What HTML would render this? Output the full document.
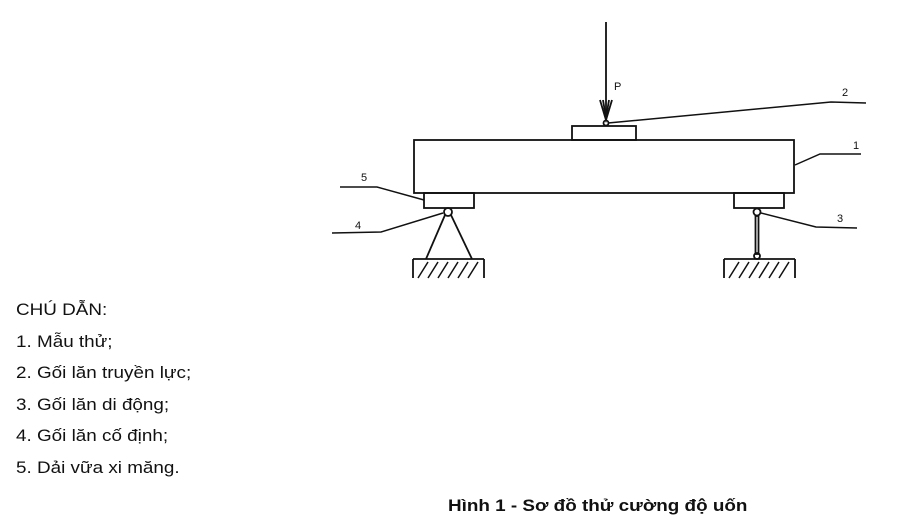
<!DOCTYPE html>
<html><head><meta charset="utf-8"><style>
body{margin:0;width:900px;height:523px;background:#fff;overflow:hidden;position:relative;font-family:"Liberation Sans",Arial,sans-serif;}
.leg{position:absolute;left:16px;font-size:17px;color:#111;line-height:20px;transform:scaleX(1.11);transform-origin:0 0;white-space:nowrap;}
.cap{position:absolute;left:448px;top:496px;font-size:17px;font-weight:bold;color:#111;transform:scaleX(1.11);transform-origin:0 0;white-space:nowrap;}
svg{position:absolute;left:0;top:0}
</style></head><body>
<svg width="900" height="523" viewBox="0 0 900 523" stroke="#111" fill="none" stroke-width="1.8">
<line x1="606" y1="22" x2="606" y2="120"/>
<path d="M600 100 L606 120 L612 100" />
<line x1="603" y1="100" x2="606" y2="118"/>
<line x1="609" y1="100" x2="606" y2="118"/>
<circle cx="606" cy="123" r="2.5"/>
<text x="614" y="90" font-size="11" font-family="Liberation Sans, sans-serif" fill="#111" stroke="none">P</text>
<rect x="572" y="126" width="64" height="14"/>
<rect x="414" y="140" width="380" height="53"/>
<rect x="424" y="193" width="50" height="15"/>
<rect x="734" y="193" width="50" height="15"/>
<circle cx="448" cy="212" r="4"/>
<line x1="445" y1="215" x2="426" y2="259"/>
<line x1="451" y1="215" x2="472" y2="259"/>
<line x1="413" y1="259" x2="484" y2="259"/>
<line x1="413" y1="259" x2="413" y2="278"/>
<line x1="484" y1="259" x2="484" y2="278"/>
<g stroke-width="1.5">
<line x1="418" y1="278" x2="428" y2="262"/><line x1="428" y1="278" x2="438" y2="262"/><line x1="438" y1="278" x2="448" y2="262"/><line x1="448" y1="278" x2="458" y2="262"/><line x1="458" y1="278" x2="468" y2="262"/><line x1="468" y1="278" x2="478" y2="262"/>
</g>
<circle cx="757" cy="212" r="3.5"/>
<rect x="755.5" y="216" width="3" height="38"/>
<circle cx="757" cy="256" r="3"/>
<line x1="724" y1="259" x2="795" y2="259"/>
<line x1="724" y1="259" x2="724" y2="278"/>
<line x1="795" y1="259" x2="795" y2="278"/>
<g stroke-width="1.5">
<line x1="729" y1="278" x2="739" y2="262"/><line x1="739" y1="278" x2="749" y2="262"/><line x1="749" y1="278" x2="759" y2="262"/><line x1="759" y1="278" x2="769" y2="262"/><line x1="769" y1="278" x2="779" y2="262"/><line x1="779" y1="278" x2="789" y2="262"/>
</g>
<g stroke-width="1.5">
<polyline points="608,123 831,102 866,103"/>
<polyline points="795,165 820,154 861,154"/>
<polyline points="424,200 377,187 340,187"/>
<polyline points="443,213 381,232 332,233"/>
<polyline points="761,213 816,227 857,228"/>
</g>
<g font-size="11" font-family="Liberation Sans, sans-serif" fill="#111" stroke="none">
<text x="842" y="96">2</text>
<text x="853" y="149">1</text>
<text x="361" y="181">5</text>
<text x="355" y="229">4</text>
<text x="837" y="222">3</text>
</g>
</svg>
<div class="leg" style="top:300px">CHÚ DẪN:</div>
<div class="leg" style="top:332px">1. Mẫu thử;</div>
<div class="leg" style="top:363px">2. Gối lăn truyền lực;</div>
<div class="leg" style="top:395px">3. Gối lăn di động;</div>
<div class="leg" style="top:426px">4. Gối lăn cố định;</div>
<div class="leg" style="top:458px">5. Dải vữa xi măng.</div>
<div class="cap">Hình 1 - Sơ đồ thử cường độ uốn</div>
</body></html>
